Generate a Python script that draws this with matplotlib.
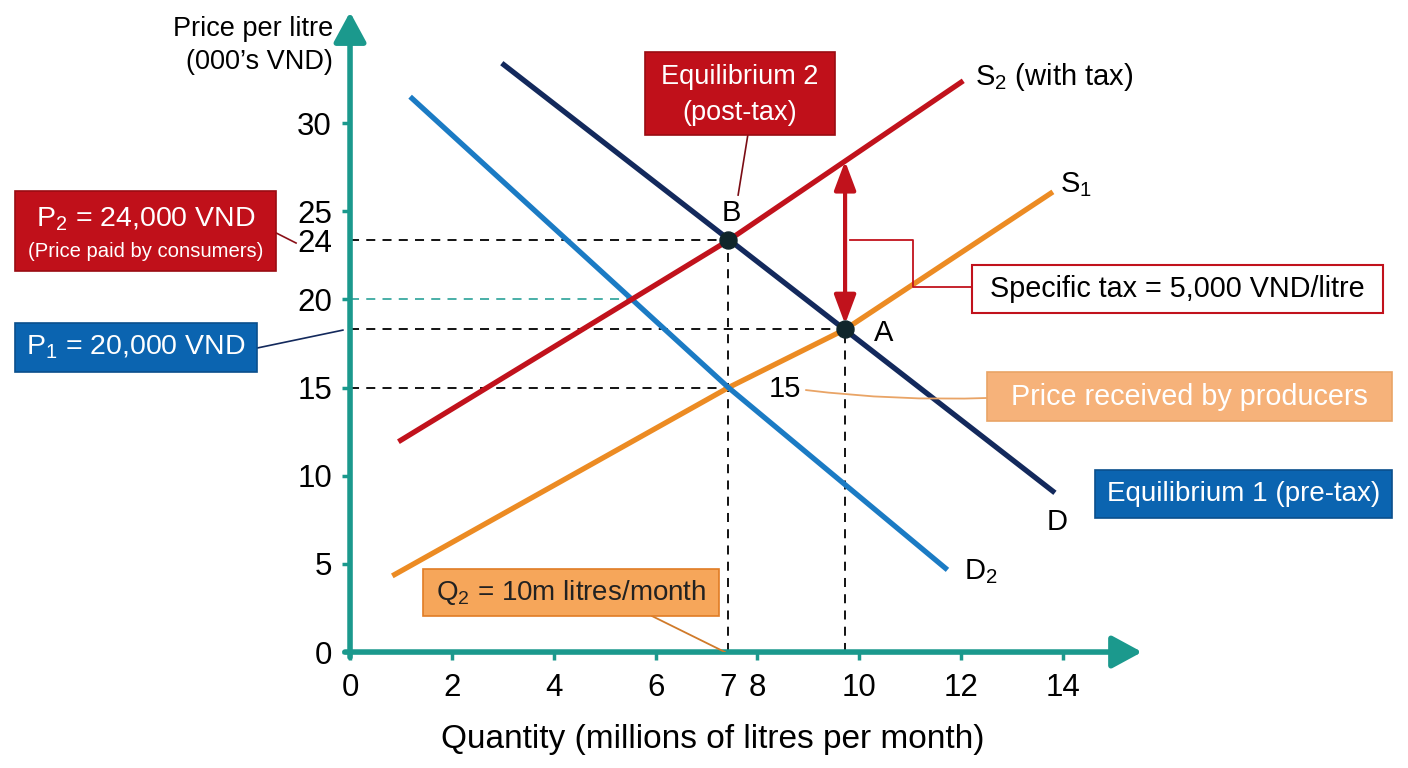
import numpy as np
import matplotlib
matplotlib.use("Agg")
import matplotlib.pyplot as plt
from matplotlib.patches import Rectangle

plt.rcParams['font.family'] = ['Liberation Sans', 'DejaVu Sans']
plt.rcParams['mathtext.fontset'] = 'custom'
plt.rcParams['mathtext.rm'] = 'Liberation Sans'
plt.rcParams['mathtext.default'] = 'regular'

# curves: quantity (m litres) and price (000's VND)
d_q = [2.98, 13.84]
d_p = [33.4, 9.03]
d2_q = [1.18, 7.43, 11.73]
d2_p = [31.5, 15.0, 4.66]
s1_q = [0.83, 7.43, 9.72, 13.8]
s1_p = [4.32, 15.0, 18.3, 26.1]
s2_q = [0.95, 7.43, 12.04]
s2_p = [11.93, 23.35, 32.4]

# equilibrium points B (post-tax) and A (pre-tax)
eq_names = ['B', 'A']
eq_q = [7.43, 9.72]
eq_p = [23.35, 18.3]
p_producer = 15.0
p_guide = 20.0

x_ticks = [0, 2, 4, 6, 8, 10, 12, 14]
y_ticks = [0, 5, 10, 15, 20, 25, 30]

teal = '#1b998d'
navy = '#13295c'
blue = '#1b7bc4'
red = '#c1121c'
orange = '#ec8b23'

fig = plt.figure(figsize=(14.08, 7.68), dpi=100)
ax = fig.add_axes([0.2486, 0.1510, 0.5643, 0.8356])
ax.set_xlim(0, 15.6)
ax.set_ylim(0, 36.4)
for s in ax.spines.values():
    s.set_visible(False)

# axes with arrow heads
arr = dict(arrowstyle='-|>,head_length=0.7,head_width=0.38', color=teal, lw=4,
           mutation_scale=26, shrinkA=0, shrinkB=0)
ax.annotate('', xy=(0, 36.3), xytext=(0, -0.3), arrowprops=arr, annotation_clip=False)
ax.annotate('', xy=(15.55, 0), xytext=(-0.1, 0), arrowprops=arr, annotation_clip=False)

ax.set_xticks(x_ticks + [eq_q[0]])
ax.set_xticklabels([str(t) for t in x_ticks] + ['7'])
ax.set_yticks(y_ticks + [eq_p[0]])
ax.set_yticklabels([str(t) for t in y_ticks] + ['24'])
ax.tick_params(colors=teal, labelcolor='black', labelsize=22.5, width=2.5, length=6)
ax.tick_params(axis='x', pad=9)
ax.tick_params(axis='y', pad=7)
for t in ax.xaxis.get_major_ticks():
    if t.get_loc() == eq_q[0]:
        t.tick1line.set_visible(False)
for t in ax.yaxis.get_major_ticks():
    if t.get_loc() == eq_p[0]:
        t.tick1line.set_visible(False)

ax.text(7.13, -4.95, 'Quantity (millions of litres per month)', fontsize=24,
        ha='center', va='center')
ax.text(-0.33, 34.4, 'Price per litre\n(000\u2019s VND)', fontsize=19.5,
        ha='right', va='center', linespacing=1.35)

# guide lines
dash = (0, (5, 4))
ax.plot([0, eq_q[0]], [eq_p[0]] * 2, color='black', lw=1.3, ls=dash, zorder=2)
ax.plot([0, eq_q[1]], [eq_p[1]] * 2, color='black', lw=1.3, ls=dash, zorder=2)
ax.plot([0, eq_q[0]], [p_producer] * 2, color='black', lw=1.3, ls=dash, zorder=2)
ax.plot([eq_q[0]] * 2, [0, eq_p[0]], color='black', lw=1.3, ls=dash, zorder=2)
ax.plot([eq_q[1]] * 2, [0, eq_p[1]], color='black', lw=1.3, ls=dash, zorder=2)
q_guide = np.interp(p_guide, d2_p[::-1], d2_q[::-1])
ax.plot([0, q_guide], [p_guide] * 2, color='#3aa9a0', lw=1.3, ls=dash, zorder=2)

# curves
ax.plot(s1_q, s1_p, color=orange, lw=3.8, solid_capstyle='butt', zorder=3)
ax.plot(d2_q, d2_p, color=blue, lw=3.8, solid_capstyle='butt', zorder=3)
ax.plot(s2_q, s2_p, color=red, lw=3.8, solid_capstyle='butt', zorder=3)
ax.plot(d_q, d_p, color=navy, lw=3.8, solid_capstyle='butt', zorder=3)

ax.scatter(eq_q, eq_p, s=150, color='#10262b', zorder=6)
ax.text(eq_q[0] + 0.05, eq_p[0] + 1.55, 'B', fontsize=21, ha='center', va='center')
ax.text(eq_q[1] + 0.75, eq_p[1] - 0.2, 'A', fontsize=21, ha='center', va='center')

ax.text(s2_q[-1] + 0.23, s2_p[-1] + 0.2, 'S$_2$ (with tax)', fontsize=21, va='center')
ax.text(s1_q[-1] + 0.14, s1_p[-1] + 0.4, 'S$_1$', fontsize=21, va='center')
ax.text(d_q[-1] + 0.05, d_p[-1] - 1.65, 'D', fontsize=21, ha='center', va='center')
ax.text(d2_q[-1] + 0.66, d2_p[-1] - 0.12, 'D$_2$', fontsize=21, ha='center', va='center')

# tax arrow between S1 and S2 at the pre-tax quantity
top = np.interp(eq_q[1], s2_q, s2_p)
ax.annotate('', xy=(eq_q[1], top), xytext=(eq_q[1], eq_p[1] + 0.3),
            arrowprops=dict(arrowstyle='<|-|>,head_length=0.8,head_width=0.3',
                            color=red, lw=3, mutation_scale=22, shrinkA=0, shrinkB=0),
            zorder=4)
ax.plot([eq_q[1] + 0.1, 11.05, 11.05, 12.21], [23.37, 23.37, 20.7, 20.7],
        color=red, lw=1.3, zorder=4, clip_on=False)


def box(cx, cy, w, h, fc, ec, lw=1.2):
    ax.add_patch(Rectangle((cx - w / 2, cy - h / 2), w, h, facecolor=fc,
                           edgecolor=ec, lw=lw, clip_on=False, zorder=7))


# P2 box
box(-4.02, 23.88, 5.12, 4.54, '#c0101a', '#9a0c12')
ax.text(-4.02, 24.55, 'P$_2$ = 24,000 VND', fontsize=20.5, color='white',
        ha='center', va='center', zorder=8)
ax.text(-4.02, 22.7, '(Price paid by consumers)', fontsize=14.6, color='white',
        ha='center', va='center', zorder=8)
ax.plot([-1.45, -1.06], [23.77, 23.2], color='#8a1018', lw=1.2, clip_on=False)

# P1 box
box(-4.2, 17.27, 4.75, 2.78, '#0b64b0', '#0a4f8c')
ax.text(-4.2, 17.27, 'P$_1$ = 20,000 VND', fontsize=20.5, color='white',
        ha='center', va='center', zorder=8)
ax.plot([-1.83, -0.14], [17.24, 18.26], color=navy, lw=1.2, clip_on=False)

# Equilibrium 2 box
box(7.66, 31.68, 3.73, 4.71, '#c0101a', '#9a0c12')
ax.text(7.66, 31.62, 'Equilibrium 2\n(post-tax)', fontsize=19.5, color='white',
        ha='center', va='center', linespacing=1.5, zorder=8)
ax.plot([7.81, 7.62], [29.32, 25.92], color='#7a0c14', lw=1.2)

# specific tax box
box(16.25, 20.59, 8.07, 2.72, 'white', red, lw=1.5)
ax.text(16.25, 20.59, 'Specific tax = 5,000 VND/litre', fontsize=20.7,
        ha='center', va='center', zorder=8)

# producers box
box(16.48, 14.49, 7.95, 2.78, '#f6b27a', '#e9a466')
ax.text(16.48, 14.49, 'Price received by producers', fontsize=20.7, color='white',
        ha='center', va='center', zorder=8)
ax.text(8.54, p_producer - 0.1, '15', fontsize=21, ha='center', va='center')
ax.annotate('', xy=(12.51, 14.41), xytext=(8.95, 14.86),
            arrowprops=dict(arrowstyle='-', color='#e9a466', lw=1.3,
                            connectionstyle='arc3,rad=0.04', shrinkA=0, shrinkB=0))

# Equilibrium 1 box
box(17.54, 8.96, 5.83, 2.72, '#0b64b0', '#0a4f8c')
ax.text(17.54, 8.96, 'Equilibrium 1 (pre-tax)', fontsize=20, color='white',
        ha='center', va='center', zorder=8)

# Q2 box
box(4.34, 3.37, 5.81, 2.67, '#f6a65a', '#e07c25')
ax.text(4.34, 3.37, 'Q$_2$ = 10m litres/month', fontsize=20, color='#222222',
        ha='center', va='center', zorder=8)
ax.plot([5.93, 7.36], [2.04, 0], color='#d07a2a', lw=1.3, zorder=4)

fig.savefig('out.png', dpi=100)
